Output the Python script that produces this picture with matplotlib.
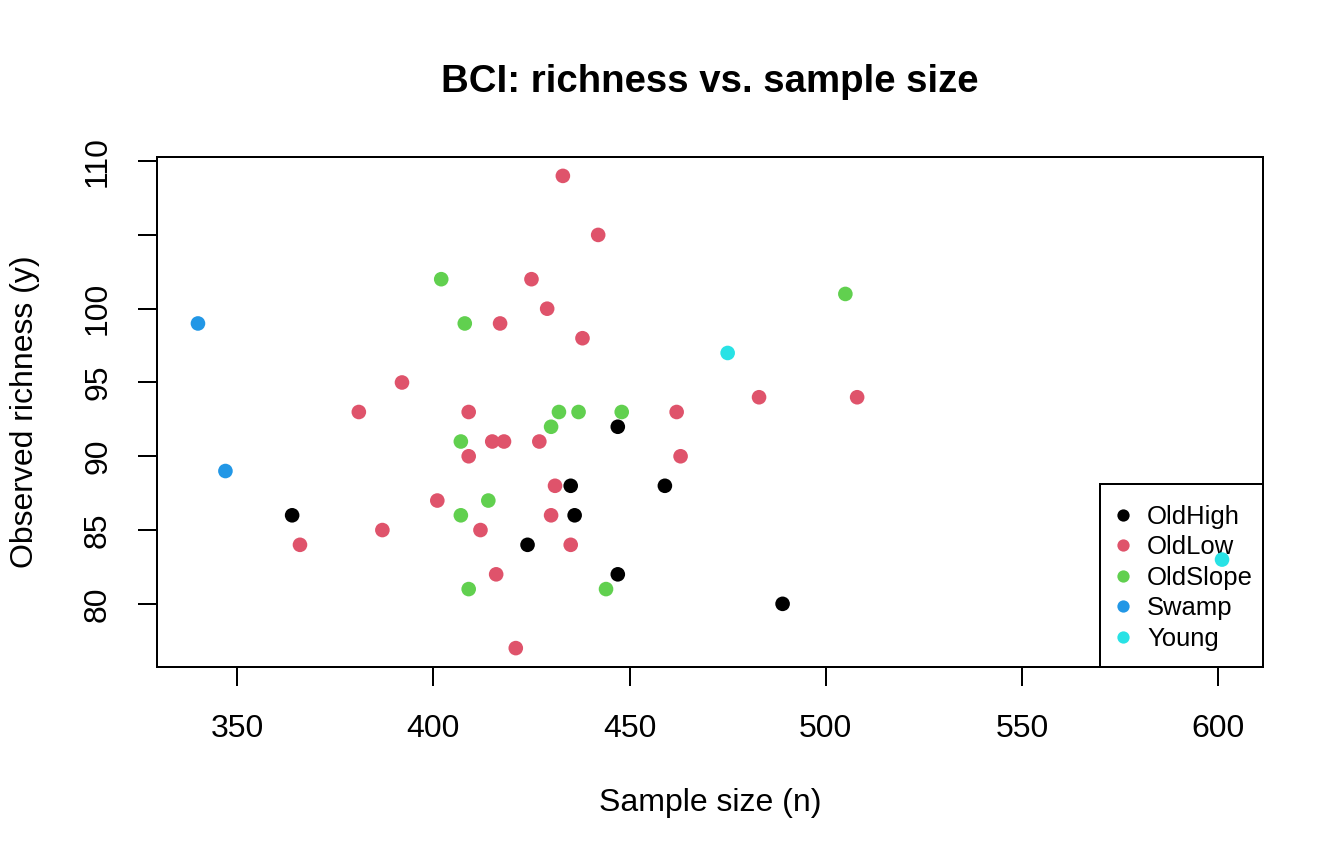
import matplotlib.pyplot as plt
from matplotlib.patches import Rectangle

plt.rcParams['font.family'] = ['Liberation Sans', 'DejaVu Sans']

habitats = ["OldHigh", "OldLow", "OldSlope", "Swamp", "Young"]
colors = ["black", "#DF536B", "#61D04F", "#2297E6", "#28E2E5"]

# sample size (n) and observed richness (y) per habitat
n_oldhigh = [447, 435, 364, 436, 424, 447, 459, 489]
y_oldhigh = [92, 88, 86, 86, 84, 82, 88, 80]

n_oldlow = [433, 442, 425, 429, 417, 438, 392, 381, 409, 415, 418, 427, 409,
            431, 401, 430, 387, 412, 366, 435, 416, 421, 483, 508, 462, 463]
y_oldlow = [109, 105, 102, 100, 99, 98, 95, 93, 93, 91, 91, 91, 90,
            88, 87, 86, 85, 85, 84, 84, 82, 77, 94, 94, 93, 90]

n_oldslope = [402, 408, 432, 437, 448, 430, 407, 414, 407, 409, 444, 505]
y_oldslope = [102, 99, 93, 93, 93, 92, 91, 87, 86, 81, 81, 101]

n_swamp = [340, 347]
y_swamp = [99, 89]

n_young = [475, 601]
y_young = [97, 83]

groups = [(n_oldhigh, y_oldhigh), (n_oldlow, y_oldlow), (n_oldslope, y_oldslope),
          (n_swamp, y_swamp), (n_young, y_young)]

x_ticks = [350, 400, 450, 500, 550, 600]
y_ticks = [80, 85, 90, 95, 100, 105, 110]
# R drops the 105 label because it would overlap its neighbours
y_tick_labels = ["80", "85", "90", "95", "100", "", "110"]

W, H = 1344, 864


def px(x, y):
    # pixel position (from top-left) -> figure fraction
    return x / W, 1 - y / H


fig = plt.figure(figsize=(7, 4.5), dpi=192)
ax = fig.add_axes([157 / W, 1 - 667 / H, (1263 - 157) / W, (667 - 157) / H])

for (xs, ys), lab, col in zip(groups, habitats, colors):
    ax.scatter(xs, ys, s=30, color=col, label=lab, edgecolors='none', zorder=6)

all_x = sum([g[0] for g in groups], [])
all_y = sum([g[1] for g in groups], [])
xr = max(all_x) - min(all_x)
yr = max(all_y) - min(all_y)
ax.set_xlim(min(all_x) - 0.04 * xr, max(all_x) + 0.04 * xr)
ax.set_ylim(min(all_y) - 0.04 * yr, max(all_y) + 0.04 * yr)

ax.set_xticks(x_ticks)
ax.set_yticks(y_ticks)
ax.set_yticklabels(y_tick_labels, rotation=90, va='center')
ax.tick_params(axis='x', direction='out', length=7, width=0.75, labelsize=12, pad=10.5)
ax.tick_params(axis='y', direction='out', length=7, width=0.75, labelsize=12, pad=9.5)
for sp in ax.spines.values():
    sp.set_linewidth(0.75)

fig.text(*px(710, 82), "BCI: richness vs. sample size", ha='center', va='center',
         fontsize=14.4, fontweight='bold')
fig.text(*px(710, 803), "Sample size (n)", ha='center', va='center', fontsize=12)
fig.text(*px(25, 412), "Observed richness (y)", ha='center', va='center',
         fontsize=12, rotation=90)

# legend box drawn the way R's legend() lays it out (bottomright)
bx0, by0 = px(1100, 667)
bx1, by1 = px(1263, 484)
ax.add_patch(Rectangle((bx0, by0), bx1 - bx0, by1 - by0, transform=fig.transFigure,
                       facecolor='white', edgecolor='black', linewidth=0.75,
                       clip_on=False, zorder=4))
row_y = [515, 545.4, 575.8, 606.2, 636.6]
for lab, col, ry in zip(habitats, colors, row_y):
    mx, my = px(1123, ry)
    ax.plot([mx], [my], 'o', ms=4.6, color=col, mec='none', transform=fig.transFigure,
            clip_on=False, zorder=5)
    tx, ty = px(1147, ry + 9)
    ax.text(tx, ty, lab, ha='left', va='baseline', fontsize=9.6, transform=fig.transFigure,
            zorder=5)

fig.savefig("out.png", dpi=192)
